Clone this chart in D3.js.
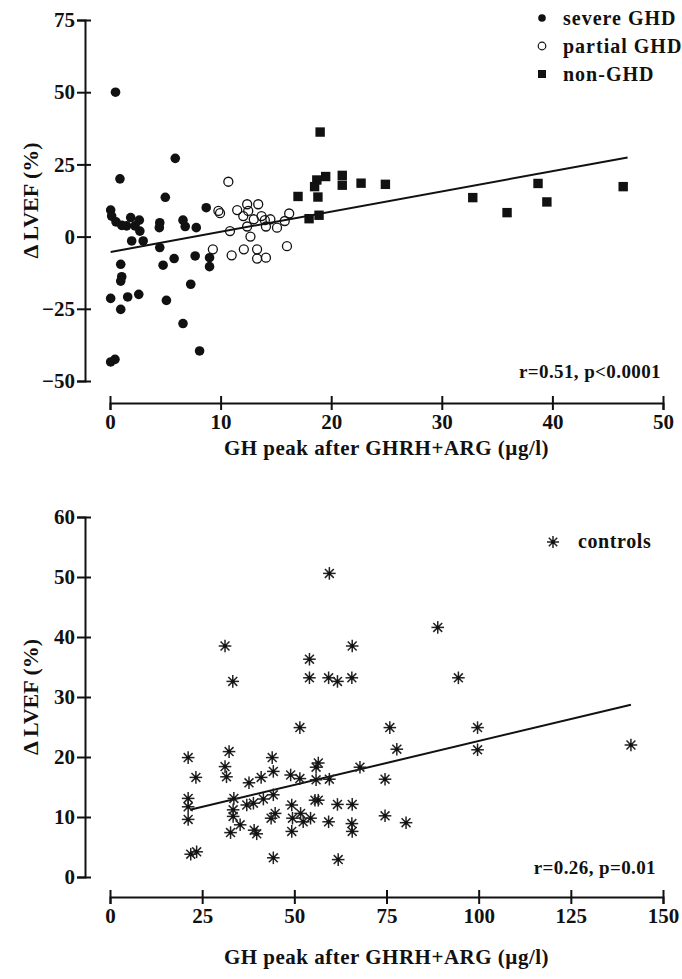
<!DOCTYPE html>
<html>
<head>
<meta charset="utf-8">
<script src="https://cdn.jsdelivr.net/npm/d3@7/dist/d3.min.js"></script>
<style>
  body { margin: 0; background: #fff; }
  svg text { font-family: "Liberation Serif", "Times New Roman", serif; font-weight: bold; fill: #111; }
</style>
</head>
<body>
<svg id="chart" width="682" height="979"></svg>
<script>
// top panel: patients, [GH peak, delta LVEF]
const severeGHD = [
  [0.5, 50], [5.9, 27.1], [0.9, 20], [5.0, 13.6], [8.7, 10], [0.06, 9.2], [0.15, 7.1],
  [0.54, 5.1], [1.06, 3.9], [1.5, 3.7], [1.87, 6.6], [2.65, 5.7], [2.26, 3.7], [2.7, 1.9],
  [3.0, -1.5], [1.96, -1.5], [4.5, 4.8], [4.46, 3.1], [6.6, 5.7], [6.8, 3.5], [7.8, 3.1],
  [4.5, -3.8], [5.8, -7.6], [7.7, -6.7], [4.8, -9.9], [0.97, -9.6], [1.06, -13.9],
  [0.97, -15.4], [0.06, -21.4], [1.6, -20.9], [2.6, -20], [0.97, -25.2], [5.1, -22.1],
  [7.3, -16.5], [6.6, -30.1], [0.06, -43.4], [0.45, -42.5], [8.1, -39.6], [9.0, -7.3],
  [9.0, -10.4]
];
const partialGHD = [
  [10.7, 19.0], [9.8, 8.9], [9.95, 8.1], [11.5, 9.2], [12.4, 11.2], [13.4, 11.2],
  [12.5, 8.9], [12.05, 7.1], [13.0, 6.0], [13.7, 7.1], [14.0, 5.7], [14.5, 6.0],
  [16.2, 8.0], [15.8, 5.4], [10.85, 1.9], [12.4, 3.5], [14.1, 3.5], [15.1, 3.1],
  [12.7, 0], [9.3, -4.4], [11.0, -6.5], [12.1, -4.4], [13.3, -4.4], [13.3, -7.6],
  [14.1, -7.3], [16.0, -3.3]
];
const nonGHD = [
  [19.0, 36.2], [19.5, 20.8], [18.7, 19.6], [18.5, 17.3], [21.0, 21.2], [21.0, 17.8],
  [22.7, 18.5], [24.9, 18.1], [17.0, 13.9], [18.8, 13.7], [18.0, 6.2], [18.9, 7.4],
  [32.8, 13.5], [35.9, 8.3], [38.7, 18.4], [39.5, 12.0], [46.4, 17.3]
];
const fitTop = [[0.06, -5.3], [46.8, 27.4]];
const xTicksTop = [0, 10, 20, 30, 40, 50];
const yTicksTop = [-50, -25, 0, 25, 50, 75];
const legendTop = ['severe GHD', 'partial GHD', 'non-GHD'];

// bottom panel: controls
const controls = [
  [59.5, 50.6], [31.2, 38.5], [65.7, 38.5], [54.1, 36.3], [33.3, 32.6], [54.1, 33.2],
  [59.3, 33.2], [61.7, 32.6], [65.6, 33.2], [51.5, 24.9], [21.2, 19.9], [32.3, 20.9],
  [31.2, 18.4], [31.6, 16.7], [23.3, 16.6], [44.0, 19.9], [44.3, 17.6], [41.0, 16.6],
  [37.7, 15.7], [49.0, 17.0], [51.5, 16.4], [56.5, 19.0], [55.9, 18.3], [55.9, 16.2],
  [59.5, 16.3], [67.8, 18.3], [21.2, 13.1], [21.2, 11.7], [21.2, 9.6], [33.6, 13.1],
  [33.4, 11.2], [33.4, 10.1], [32.7, 7.4], [35.3, 8.7], [37.1, 12.0], [38.9, 12.3],
  [41.6, 13.0], [44.3, 13.7], [39.1, 7.8], [39.8, 7.2], [43.7, 9.8], [44.8, 10.6],
  [49.3, 12.0], [49.5, 9.8], [49.3, 7.6], [51.7, 10.6], [52.4, 9.2], [54.4, 9.8],
  [55.6, 12.8], [56.5, 12.8], [59.3, 9.2], [61.7, 12.1], [65.7, 12.1], [65.6, 8.9],
  [65.7, 7.6], [21.9, 3.8], [23.5, 4.2], [44.3, 3.2], [61.9, 2.9],
  [88.9, 41.6], [94.5, 33.2], [75.9, 24.9], [77.8, 21.3], [99.7, 24.9], [99.7, 21.2],
  [74.6, 16.3], [74.6, 10.2], [80.3, 9.05], [141.3, 22.0]
];
const fitBottom = [[21.7, 11.2], [141.3, 28.7]];
const xTicksBottom = [0, 25, 50, 75, 100, 125, 150];
const yTicksBottom = [0, 10, 20, 30, 40, 50, 60];

const svg = d3.select('#chart');
const axisX = 85;
const fs = 21;

function yAxis(y, ticks) {
    const g = svg.append('g').attr('transform', `translate(${axisX},0)`)
        .call(d3.axisLeft(y).tickValues(ticks).tickSize(8).tickPadding(2).tickFormat(d3.format('d')));
    g.select('.domain').attr('stroke', '#111').attr('stroke-width', 2);
    g.selectAll('.tick line').attr('stroke', '#111').attr('stroke-width', 2).attr('x1', 6);
    g.selectAll('.tick text').style('font-size', fs + 'px');
    return g;
}

function xAxis(x, ticks, yPos) {
    const g = svg.append('g').attr('transform', `translate(0,${yPos})`)
        .call(d3.axisBottom(x).tickValues(ticks).tickSize(7).tickPadding(4).tickFormat(d3.format('d')));
    g.select('.domain').attr('stroke', '#111').attr('stroke-width', 2);
    g.selectAll('.tick line').attr('stroke', '#111').attr('stroke-width', 2).attr('y1', -7);
    g.selectAll('.tick text').style('font-size', fs + 'px');
    return g;
}

function star(g, cx, cy, r) {
    for (let a = 0; a < 4; a++) {
        const t = a * Math.PI / 4;
        g.append('line')
            .attr('x1', cx - r * Math.cos(t)).attr('y1', cy - r * Math.sin(t))
            .attr('x2', cx + r * Math.cos(t)).attr('y2', cy + r * Math.sin(t))
            .attr('stroke', '#222').attr('stroke-width', 1.5);
    }
    g.append('circle').attr('cx', cx).attr('cy', cy).attr('r', 2).attr('fill', '#111');
}

// ---- top panel
const x1 = d3.scaleLinear().domain([0, 50]).range([110, 663]);
const y1 = d3.scaleLinear().domain([-50, 75]).range([381, 20]);
yAxis(y1, yTicksTop);
xAxis(x1, xTicksTop, 403);

svg.append('text').attr('transform', `translate(38,${(y1(75) + y1(-50)) / 2}) rotate(-90)`)
    .attr('text-anchor', 'middle').style('font-size', '22px').text('\u0394 LVEF (%)');
svg.append('text').attr('x', (x1(0) + x1(50)) / 2).attr('y', 455)
    .attr('text-anchor', 'middle').style('font-size', fs + 'px').style('letter-spacing', '0.5px')
    .text('GH peak after GHRH+ARG (\u00b5g/l)');

const line1 = d3.line().x(d => x1(d[0])).y(d => y1(d[1]));
svg.append('path').attr('d', line1(fitTop)).attr('stroke', '#111').attr('stroke-width', 2).attr('fill', 'none');

svg.append('g').selectAll('circle').data(severeGHD).join('circle')
    .attr('cx', d => x1(d[0])).attr('cy', d => y1(d[1])).attr('r', 4.8).attr('fill', '#111');
svg.append('g').selectAll('circle').data(partialGHD).join('circle')
    .attr('cx', d => x1(d[0])).attr('cy', d => y1(d[1])).attr('r', 4.5)
    .attr('fill', 'none').attr('stroke', '#111').attr('stroke-width', 1.3);
svg.append('g').selectAll('rect').data(nonGHD).join('rect')
    .attr('x', d => x1(d[0]) - 4.7).attr('y', d => y1(d[1]) - 4.7)
    .attr('width', 9.4).attr('height', 9.4).attr('fill', '#111');

svg.append('text').attr('x', 661).attr('y', 378).attr('text-anchor', 'end')
    .style('font-size', '19px').style('letter-spacing', '0.4px').text('r=0.51, p<0.0001');

// legend top
const leg = svg.append('g');
legendTop.forEach((name, i) => {
    const cy = 18 + i * 28;
    if (i === 0) leg.append('circle').attr('cx', 542).attr('cy', cy).attr('r', 3.8).attr('fill', '#111');
    if (i === 1) leg.append('circle').attr('cx', 542).attr('cy', cy).attr('r', 3.8).attr('fill', 'none').attr('stroke', '#111').attr('stroke-width', 1.2);
    if (i === 2) leg.append('rect').attr('x', 538).attr('y', cy - 4).attr('width', 8).attr('height', 8).attr('fill', '#111');
    leg.append('text').attr('x', 563).attr('y', cy + 7).style('font-size', '20px')
        .style('letter-spacing', '1px').text(name);
});

// ---- bottom panel
const x2 = d3.scaleLinear().domain([0, 150]).range([110, 663]);
const y2 = d3.scaleLinear().domain([0, 60]).range([877, 517]);
yAxis(y2, yTicksBottom);
xAxis(x2, xTicksBottom, 897);

svg.append('text').attr('transform', `translate(38,${(y2(0) + y2(60)) / 2}) rotate(-90)`)
    .attr('text-anchor', 'middle').style('font-size', '22px').text('\u0394 LVEF (%)');
svg.append('text').attr('x', (x2(0) + x2(150)) / 2).attr('y', 964)
    .attr('text-anchor', 'middle').style('font-size', fs + 'px').style('letter-spacing', '0.5px')
    .text('GH peak after GHRH+ARG (\u00b5g/l)');

const line2 = d3.line().x(d => x2(d[0])).y(d => y2(d[1]));
svg.append('path').attr('d', line2(fitBottom)).attr('stroke', '#111').attr('stroke-width', 2).attr('fill', 'none');

const stars = svg.append('g');
controls.forEach(d => star(stars, x2(d[0]), y2(d[1]), 6.3));

star(svg.append('g'), 553, 542, 6);
svg.append('text').attr('x', 578).attr('y', 548).style('font-size', '20px')
    .style('letter-spacing', '0.6px').text('controls');

svg.append('text').attr('x', 656).attr('y', 874).attr('text-anchor', 'end')
    .style('font-size', '19px').style('letter-spacing', '0.4px').text('r=0.26, p=0.01');
</script>
</body>
</html>
